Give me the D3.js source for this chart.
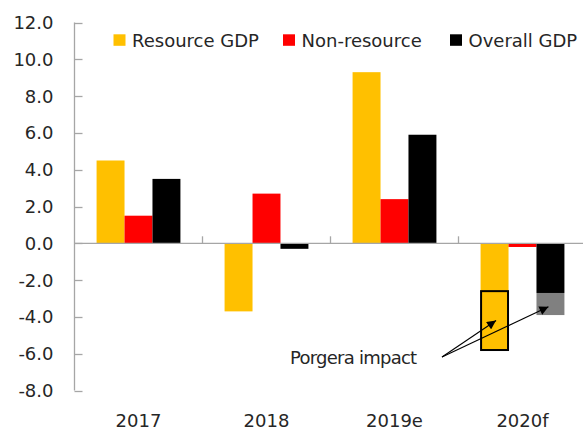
<!DOCTYPE html>
<html>
<head>
<meta charset="utf-8">
<script src="https://cdn.jsdelivr.net/npm/d3@7.9.0/dist/d3.min.js"></script>
<style>
  body { margin: 0; background: #fff; }
  svg { display: block; font-family: "DejaVu Sans", sans-serif; }
</style>
</head>
<body>
<svg width="583" height="430"></svg>
<script>
// chart data
const categories = ['2017', '2018', '2019e', '2020f'];
const series = ['Resource GDP', 'Non-resource', 'Overall GDP'];
const resourceGDP = [4.5, -3.7, 9.3, -2.6];
const nonResource = [1.5, 2.7, 2.4, -0.2];
const overallGDP = [3.5, -0.3, 5.9, -2.7];
// Porgera impact (2020f only): total incl. impact
const resourceWithPorgera = [null, null, null, -5.8];
const overallWithPorgera = [null, null, null, -3.9];
const yTicks = [-8, -6, -4, -2, 0, 2, 4, 6, 8, 10, 12];

const colors = { 'Resource GDP': '#FFC000', 'Non-resource': '#FF0000', 'Overall GDP': '#000000' };
const values = { 'Resource GDP': resourceGDP, 'Non-resource': nonResource, 'Overall GDP': overallGDP };

const svg = d3.select('svg');
const axisColor = '#a6a6a6';
const textColor = '#262626';

let x = d3.scaleBand().domain(categories).range([74.5, 586.5]);
let xSub = d3.scaleBand().domain(series).range([0, x.bandwidth()]).paddingOuter(0.79);
let y = d3.scaleLinear().domain([-8, 12]).range([390.5, 22.5]);

// bars
series.forEach((s) => {
  svg.append('g')
    .selectAll('rect')
    .data(categories.map((c, i) => ({ c, v: values[s][i] })))
    .join('rect')
    .attr('x', (d) => x(d.c) + xSub(s))
    .attr('width', xSub.bandwidth())
    .attr('y', (d) => y(Math.max(0, d.v)))
    .attr('height', (d) => Math.abs(y(d.v) - y(0)))
    .attr('fill', colors[s]);
});

// porgera impact pieces
const porgera = categories.map((c, i) => ({ c, i })).filter((d) => resourceWithPorgera[d.i] !== null);

svg.append('g')
  .selectAll('rect')
  .data(porgera)
  .join('rect')
  .attr('x', (d) => x(d.c) + xSub('Overall GDP'))
  .attr('width', xSub.bandwidth())
  .attr('y', (d) => y(overallGDP[d.i]))
  .attr('height', (d) => y(overallWithPorgera[d.i]) - y(overallGDP[d.i]))
  .attr('fill', '#808080');

svg.append('g')
  .selectAll('rect')
  .data(porgera)
  .join('rect')
  .attr('x', (d) => x(d.c) + xSub('Resource GDP') + 0.5)
  .attr('width', xSub.bandwidth() - 1)
  .attr('y', (d) => y(resourceGDP[d.i]))
  .attr('height', (d) => y(resourceWithPorgera[d.i]) - y(resourceGDP[d.i]))
  .attr('fill', '#FFC000')
  .attr('stroke', '#000')
  .attr('stroke-width', 2);

// y axis
svg.append('line')
  .attr('x1', x.range()[0]).attr('x2', x.range()[0])
  .attr('y1', y(12)).attr('y2', y(-8))
  .attr('stroke', axisColor).attr('stroke-width', 1.3);

svg.append('g')
  .selectAll('line')
  .data(yTicks)
  .join('line')
  .attr('x1', x.range()[0]).attr('x2', x.range()[0] + 8)
  .attr('y1', (d) => Math.round(y(d)) + 0.5).attr('y2', (d) => Math.round(y(d)) + 0.5)
  .attr('stroke', axisColor).attr('stroke-width', 1.3);

svg.append('g')
  .selectAll('text')
  .data(yTicks)
  .join('text')
  .attr('x', 53.5)
  .attr('y', (d) => y(d))
  .attr('dy', '0.36em')
  .attr('text-anchor', 'end')
  .attr('font-size', 18)
  .attr('fill', textColor)
  .text((d) => d.toFixed(1));

// zero line + category ticks
svg.append('line')
  .attr('x1', x.range()[0]).attr('x2', 583)
  .attr('y1', y(0)).attr('y2', y(0))
  .attr('stroke', axisColor).attr('stroke-width', 1.3);

svg.append('g')
  .selectAll('line')
  .data(categories.slice(1))
  .join('line')
  .attr('x1', (d) => x(d)).attr('x2', (d) => x(d))
  .attr('y1', y(0)).attr('y2', y(0) - 7)
  .attr('stroke', axisColor).attr('stroke-width', 1.3);

svg.append('g')
  .selectAll('text')
  .data(categories)
  .join('text')
  .attr('x', (d) => x(d) + x.bandwidth() / 2)
  .attr('y', 426.5)
  .attr('text-anchor', 'middle')
  .attr('font-size', 18)
  .attr('fill', textColor)
  .text((d) => d);

// legend
const legendX = [113.5, 283, 450];
series.forEach((s, idx) => {
  svg.append('rect')
    .attr('x', legendX[idx]).attr('y', 34.3)
    .attr('width', 12).attr('height', 11.5)
    .attr('fill', colors[s]);
  svg.append('text')
    .attr('x', legendX[idx] + 18.5).attr('y', 46.5)
    .attr('font-size', 18)
    .attr('fill', textColor)
    .text(s);
});

// annotation
svg.append('defs').append('marker')
  .attr('id', 'arrow')
  .attr('viewBox', '0 0 10 10')
  .attr('refX', 10).attr('refY', 5)
  .attr('markerWidth', 10).attr('markerHeight', 9)
  .attr('markerUnits', 'userSpaceOnUse')
  .attr('orient', 'auto')
  .append('path')
  .attr('d', 'M0,0 L10,5 L0,10 Z')
  .attr('fill', '#000');

const start = [442, 357];
porgera.forEach((d) => {
  const targets = [
    [x(d.c) + xSub('Resource GDP') + xSub.bandwidth() / 2 + 1.5, y(-4.2)],
    [x(d.c) + xSub('Overall GDP') + xSub.bandwidth() / 2 - 2, y(-3.45)]
  ];
  targets.forEach((t) => {
    svg.append('line')
      .attr('x1', start[0]).attr('y1', start[1])
      .attr('x2', t[0]).attr('y2', t[1])
      .attr('stroke', '#000').attr('stroke-width', 1.1)
      .attr('marker-end', 'url(#arrow)');
  });
});

svg.append('text')
  .attr('x', 290).attr('y', 363.5)
  .attr('font-size', 18)
  .attr('letter-spacing', -0.75)
  .attr('fill', textColor)
  .text('Porgera impact');
</script>
</body>
</html>
